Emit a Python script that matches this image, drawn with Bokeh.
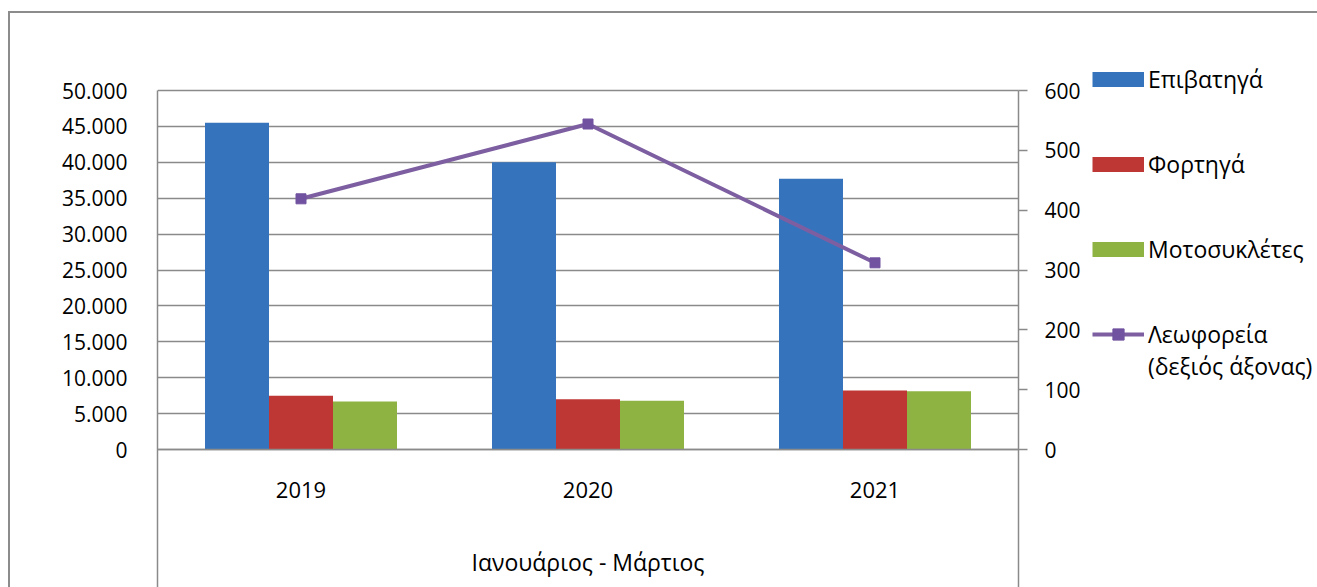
from bokeh.plotting import figure
from bokeh.models import (Range1d, LinearAxis, FixedTicker, Legend, LegendItem,
                          ColumnDataSource)
from bokeh.transform import dodge
from bokeh.embed import file_html
from bokeh.resources import INLINE

# ---------------- data ----------------
years = ["2019", "2020", "2021"]
passenger = [45500, 40000, 37700]      # Επιβατηγά (left axis)
trucks = [7500, 7000, 8200]            # Φορτηγά (left axis)
motorcycles = [6700, 6800, 8100]       # Μοτοσυκλέτες (left axis)
buses = [419, 544, 312]                # Λεωφορεία (right axis)

series_labels = ["Επιβατηγά", "Φορτηγά", "Μοτοσυκλέτες", "Λεωφορεία", "(δεξιός άξονας)"]
x_title = "Ιανουάριος - Μάρτιος"

left_ticks = [0, 5000, 10000, 15000, 20000, 25000, 30000, 35000, 40000, 45000, 50000]
left_tick_labels = ["0", "5.000", "10.000", "15.000", "20.000", "25.000",
                    "30.000", "35.000", "40.000", "45.000", "50.000"]
right_ticks = [0, 100, 200, 300, 400, 500, 600]

# ---------------- styling / layout ----------------
FONT = "Open Sans"
GRID = "#8a8a8a"
C_BLUE = "#3574BD"
C_RED = "#BE3734"
C_GREEN = "#8EB343"
C_PURPLE = "#7D5FA1"

W, H = 1317, 587
PLOT_L, PLOT_T, PLOT_R, ZERO_Y = 157, 90, 1018, 449   # pixel layout of the value area
LEG_X = 1092

n = len(years)
x_pos = [i + 0.5 for i in range(n)]          # category centres
x_end = n * (W - PLOT_L) / (PLOT_R - PLOT_L)

left_max = left_ticks[-1]
right_max = right_ticks[-1]
span_px = ZERO_Y - PLOT_T
left_lo = -left_max * (H - ZERO_Y) / span_px
left_hi = left_max + left_max * PLOT_T / span_px
right_lo = -right_max * (H - ZERO_Y) / span_px
right_hi = right_max + right_max * PLOT_T / span_px

src = ColumnDataSource(dict(x=x_pos, year=years, passenger=passenger, trucks=trucks,
                            motorcycles=motorcycles, buses=buses))

p = figure(x_range=Range1d(0, x_end), y_range=Range1d(left_lo, left_hi),
           width=W, height=H, output_backend="svg", toolbar_location=None,
           min_border_left=PLOT_L, min_border_top=0,
           min_border_bottom=0, min_border_right=0)
p.extra_y_ranges = {"right": Range1d(right_lo, right_hi)}
p.outline_line_color = None
p.background_fill_color = None
p.border_fill_color = None
# outer chart border (top and left edges visible in the original crop)
p.styles = {
    "background-color": "white",
    "background-image": "linear-gradient(#8c8c8c, #8c8c8c), linear-gradient(#8c8c8c, #8c8c8c)",
    "background-position": "8px 11px, 8px 11px",
    "background-size": "2px 100%, 100% 2px",
    "background-repeat": "no-repeat, no-repeat",
}

# grid lines limited to the value area
p.xgrid.visible = False
p.ygrid.ticker = FixedTicker(ticks=left_ticks)
p.ygrid.grid_line_color = GRID
p.ygrid.grid_line_width = 1.5
if "cross_bounds" in p.ygrid[0].properties():
    p.ygrid.cross_bounds = (0, n)
else:
    p.ygrid.visible = False
    p.segment(x0=[0] * len(left_ticks), x1=[n] * len(left_ticks),
              y0=left_ticks, y1=left_ticks, line_color=GRID, line_width=1.5)

bw = 0.223
p.vbar(x=dodge("x", -bw), top="passenger", width=bw,
       source=src, fill_color=C_BLUE, line_color=None)
p.vbar(x=dodge("x", 0), top="trucks", width=bw,
       source=src, fill_color=C_RED, line_color=None)
p.vbar(x=dodge("x", bw), top="motorcycles", width=bw,
       source=src, fill_color=C_GREEN, line_color=None)
r_line = p.line(x="x", y="buses", source=src, y_range_name="right",
                line_color=C_PURPLE, line_width=4)
r_mark = p.scatter(x="x", y="buses", source=src, y_range_name="right",
                   marker="square", size=10, fill_color="#7152A0", line_color="#7152A0")

# legend swatch proxies (draw nothing in the plot: y is NaN)
nan = float("nan")
px_blue = p.line(x=x_pos[:1], y=[nan], line_color=C_BLUE, line_width=15)
px_red = p.line(x=x_pos[:1], y=[nan], line_color=C_RED, line_width=15)
px_green = p.line(x=x_pos[:1], y=[nan], line_color=C_GREEN, line_width=15)
px_none = p.line(x=x_pos[:1], y=[nan], line_alpha=0)

# left axis
ya = p.yaxis[0]
ya.ticker = FixedTicker(ticks=left_ticks)
ya.bounds = (left_lo, left_max)
ya.major_label_overrides = {t: s for t, s in zip(left_ticks, left_tick_labels)}
ya.major_tick_out = 0
ya.major_tick_in = 0
ya.minor_tick_out = 0
ya.minor_tick_in = 0
ya.major_label_standoff = 30
ya.axis_line_color = GRID
ya.axis_line_width = 1.5
ya.major_label_text_font = FONT
ya.major_label_text_font_size = "21px"
ya.major_label_text_color = "black"

# right axis, fixed at the right edge of the category area
ra = LinearAxis(y_range_name="right", ticker=FixedTicker(ticks=right_ticks))
ra.fixed_location = n
ra.bounds = (right_lo, right_max)
ra.major_tick_out = 9
ra.major_tick_in = 0
ra.minor_tick_out = 0
ra.minor_tick_in = 0
ra.major_tick_line_color = GRID
ra.major_tick_line_width = 1.5
ra.major_label_standoff = 17
ra.axis_line_color = GRID
ra.axis_line_width = 1.5
ra.major_label_text_font = FONT
ra.major_label_text_font_size = "21px"
ra.major_label_text_color = "black"
p.add_layout(ra, "right")

# category axis, fixed at zero
xa = p.xaxis[0]
xa.fixed_location = 0
xa.bounds = (0, n)
xa.ticker = FixedTicker(ticks=x_pos)
xa.major_label_overrides = {x: y for x, y in zip(x_pos, years)}
xa.axis_line_color = GRID
xa.axis_line_width = 1.5
xa.major_tick_out = 0
xa.major_tick_in = 0
xa.minor_tick_out = 0
xa.minor_tick_in = 0
xa.major_label_standoff = 32
xa.major_label_text_font = FONT
xa.major_label_text_font_size = "22px"
xa.major_label_text_color = "black"
xa.axis_label = x_title
xa.axis_label_standoff = 45
xa.axis_label_text_font = FONT
xa.axis_label_text_font_size = "23px"
xa.axis_label_text_font_style = "normal"
xa.axis_label_text_color = "black"


def style_legend(lg):
    lg.label_text_font = FONT
    lg.label_text_font_size = "23px"
    lg.label_text_color = "black"
    lg.glyph_width = 52
    lg.glyph_height = 28
    lg.label_standoff = 4
    lg.spacing = 53
    lg.padding = 0
    lg.margin = 0
    lg.border_line_color = None
    lg.background_fill_alpha = 0


legend = Legend(items=[
    LegendItem(label=series_labels[0], renderers=[px_blue]),
    LegendItem(label=series_labels[1], renderers=[px_red]),
    LegendItem(label=series_labels[2], renderers=[px_green]),
    LegendItem(label=series_labels[3], renderers=[r_line, r_mark]),
], location=(LEG_X - PLOT_L, 237))
style_legend(legend)
p.add_layout(legend)

legend2 = Legend(items=[LegendItem(label=series_labels[4], renderers=[px_none])],
                 location=(LEG_X - PLOT_L, 205))
style_legend(legend2)
p.add_layout(legend2)

open("out.html", "w").write(file_html(p, INLINE))
